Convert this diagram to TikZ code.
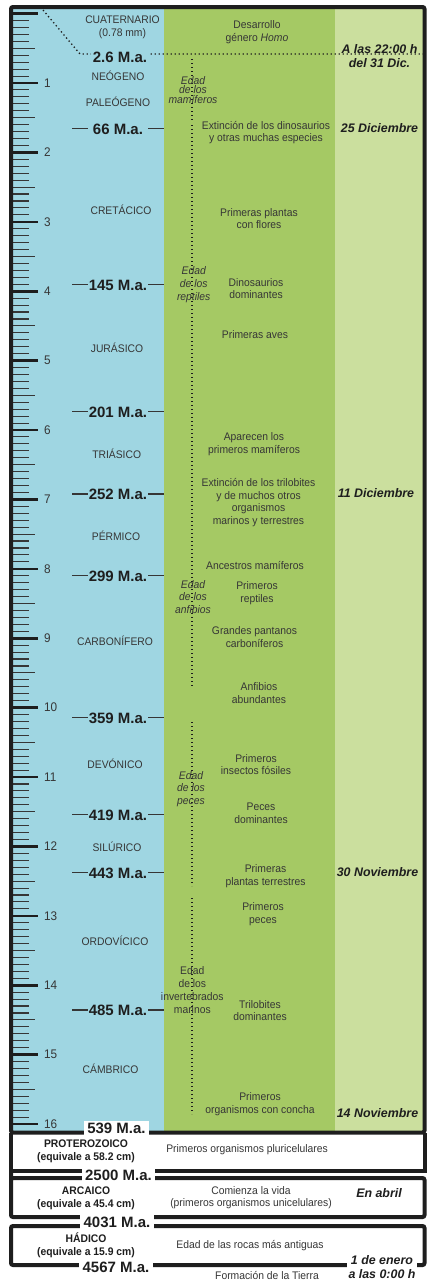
\documentclass[tikz,border=0pt]{standalone}
\usepackage{fontspec}
\setmainfont{Liberation Sans}
\newfontfamily\narrow{Liberation Sans}[FakeStretch=0.94]
\definecolor{azul}{HTML}{9FD6E2}
\definecolor{verde}{HTML}{A5C964}
\definecolor{verdec}{HTML}{CBDF9E}
\definecolor{txt}{HTML}{363636}
\definecolor{linea}{HTML}{1E1E1E}
\begin{document}
\begin{tikzpicture}[x=1pt,y=-1pt,
  per/.style={font=\narrow\fontsize{11}{12.8}\selectfont, text=txt, align=center, inner sep=0pt},
  ma/.style={font=\bfseries\fontsize{15}{15}\selectfont, text=linea, inner sep=0pt},
  mabox/.style={ma, fill=white, inner xsep=3.5pt, inner ysep=2pt},
  fecha/.style={font=\bfseries\itshape\fontsize{12.4}{14}\selectfont, text=linea, align=center, inner sep=0pt},
  edad/.style={font=\narrow\itshape\fontsize{11}{12.8}\selectfont, text=txt, align=center, inner sep=0pt},
  eon/.style={font=\narrow\bfseries\fontsize{11}{13}\selectfont, text=linea, align=center, inner sep=0pt},
  marco/.style={draw=linea, line width=4pt},
  tickmm/.style={draw=txt, line width=1.1pt},
  tickcm/.style={draw=linea, line width=2.6pt},
  punteado/.style={draw=linea, line width=1.3pt, dash pattern=on 1.3pt off 2.7pt},
  guion/.style={draw=txt, line width=1.3pt},
  num/.style={font=\narrow\fontsize{12.5}{12.5}\selectfont, text=txt, anchor=west, inner sep=0pt}
]
\useasboundingbox (0,0) rectangle (428,1282);
\fill[white] (0,0) rectangle (428,1282);
% columns
\fill[azul] (11,7) rectangle (164,1132);
\fill[verde] (164,7) rectangle (335,1132);
\fill[verdec] (335,7) rectangle (424.5,1132);
% ruler
\foreach \i in {0,...,160}{
  \pgfmathsetmacro\yy{13.6+6.94*\i}
  \pgfmathtruncatemacro\r{mod(\i,10)}
  \ifnum\r=0 \draw[tickcm] (13,\yy) -- (38,\yy);
  \else\ifnum\r=5 \draw[tickmm] (13,\yy) -- (35,\yy);
  \else \draw[tickmm] (13,\yy) -- (29,\yy);\fi\fi
}
\foreach \n in {1,...,16}{
  \node[num] (n\n) at (44,{13.6+69.4*\n}) {\n};
}
% dotted lines
\coordinate (d0) at (43,10);
\coordinate (d1) at (80,54);
\coordinate (d2) at (424,54);
\draw[punteado] (d0) -- (d1) -- (d2);
\draw[punteado] (192,59) -- (192,121);
\draw[punteado] (192,125) -- (192,688);
\draw[punteado] (192,722) -- (192,886);
\draw[punteado] (192,898) -- (192,1114);
% M.a. labels
\node[ma, fill=azul, inner xsep=2pt, inner ysep=1pt] (m26) at (120,57) {2.6 M.a.};
\foreach \yy/\lab/\nm in {128.7/66/m66, 284.5/145/m145, 411.7/201/m201, 494/252/m252, 575.3/299/m299, 717.3/359/m359, 814.3/419/m419, 872.7/443/m443, 1010/485/m485}{
  \draw[guion] (72,\yy) -- (88,\yy);
  \draw[guion] (148,\yy) -- (164,\yy);
  \node[ma] (\nm) at (118,\yy+0.6) {\lab\ M.a.};
}
% period labels
\node[per, font=\narrow\fontsize{11}{13.5}\selectfont] (cuat) at (122.5,27.5) {CUATERNARIO\\(0.78 mm)};
\node[per] (neo) at (118,76) {NEÓGENO};
\node[per] (pal) at (118,102) {PALEÓGENO};
\node[per] (cre) at (121,209.5) {CRETÁCICO};
\node[per] (jur) at (117,348) {JURÁSICO};
\node[per] (tri) at (116.7,454) {TRIÁSICO};
\node[per] (per) at (116,536) {PÉRMICO};
\node[per] (car) at (115,641) {CARBONÍFERO};
\node[per] (dev) at (115,764) {DEVÓNICO};
\node[per] (sil) at (117,847) {SILÚRICO};
\node[per] (ord) at (115,941) {ORDOVÍCICO};
\node[per] (cam) at (110.5,1069) {CÁMBRICO};
% edad labels
\node[edad, font=\narrow\itshape\fontsize{11}{9.5}\selectfont] (emam) at (193,90) {Edad\\de los\\mamíferos};
\node[edad] (erep) at (193.7,284.5) {Edad\\de los\\reptiles};
\node[edad] (eanf) at (193,597) {Edad\\de los\\anfibios};
\node[edad] (epec) at (191,789) {Edad\\de los\\peces};
\node[per] (einv) at (192.3,990) {Edad\\de los\\invertebrados\\marinos};
% events
\node[per] (e1) at (257,32) {Desarrollo\\género \textit{Homo}};
\node[per] (e2) at (266,132.5) {Extinción de los dinosaurios\\y otras muchas especies};
\node[per] (e3) at (259,218.5) {Primeras plantas\\con flores};
\node[per] (e4) at (256,288.5) {Dinosaurios\\dominantes};
\node[per] (e5) at (255,335) {Primeras aves};
\node[per] (e6) at (254,444) {Aparecen los\\primeros mamíferos};
\node[per] (e7) at (258.5,502.5) {Extinción de los trilobites\\y de muchos otros\\organismos\\marinos y terrestres};
\node[per] (e8) at (255,565) {Ancestros mamíferos};
\node[per] (e9) at (257,593.5) {Primeros\\reptiles};
\node[per] (e10) at (254.5,637) {Grandes pantanos\\carboníferos};
\node[per] (e11) at (259,693) {Anfibios\\abundantes};
\node[per] (e12) at (256,764.5) {Primeros\\insectos fósiles};
\node[per] (e13) at (261,813) {Peces\\dominantes};
\node[per] (e14) at (265.5,876) {Primeras\\plantas terrestres};
\node[per] (e15) at (263,914.5) {Primeros\\peces};
\node[per] (e16) at (260,1010.5) {Trilobites\\dominantes};
\node[per] (e17) at (260,1104.5) {Primeros\\organismos con concha};
% dates
\node[fecha] (f1) at (379.5,56) {A las 22:00 h\\del 31 Dic.};
\node[fecha] (f2) at (379.5,128) {25 Diciembre};
\node[fecha] (f3) at (376,493) {11 Diciembre};
\node[fecha] (f4) at (377.5,872) {30 Noviembre};
\node[fecha] (f5) at (377.5,1113) {14 Noviembre};
% frames
\draw[marco, rounded corners=2pt] (11,7) rectangle (424.5,1132.5);
\draw[marco] (11,1132.5) -- (11,1171) -- (424.5,1171) -- (424.5,1132.5);
\draw[marco, rounded corners=2pt] (11,1171) -- (11,1217) -- (424.5,1217) -- (424.5,1178) -- (11,1178);
\draw[marco, rounded corners=2pt] (11,1226) rectangle (424.5,1265);
% bottom labels
\node[mabox] (m539) at (116.5,1128) {539 M.a.};
\node[mabox] (m2500) at (118.5,1175) {2500 M.a.};
\node[mabox] (m4031) at (117,1222) {4031 M.a.};
\node[mabox] (m4567) at (116,1267) {4567 M.a.};
\node[eon] (prot) at (86,1151.5) {PROTEROZOICO\\(equivale a 58.2 cm)};
\node[eon] (arc) at (86,1198.5) {ARCAICO\\(equivale a 45.4 cm)};
\node[eon] (had) at (86,1245) {HÁDICO\\(equivale a 15.9 cm)};
\node[per] (b1) at (247,1150) {Primeros organismos pluricelulares};
\node[per, font=\narrow\fontsize{11}{12}\selectfont] (b2) at (251,1197.5) {Comienza la vida\\(primeros organismos unicelulares)};
\node[fecha] (b3) at (379,1193) {En abril};
\node[per] (b4) at (250,1246) {Edad de las rocas más antiguas};
\node[fecha, font=\bfseries\itshape\fontsize{12.4}{13.5}\selectfont, fill=white, inner xsep=1.5pt, inner ysep=1.5pt] (b5) at (382,1267) {1 de enero\\a las 0:00 h};
\node[per] (b6) at (267,1275) {Formación de la Tierra};
\end{tikzpicture}
\end{document}
